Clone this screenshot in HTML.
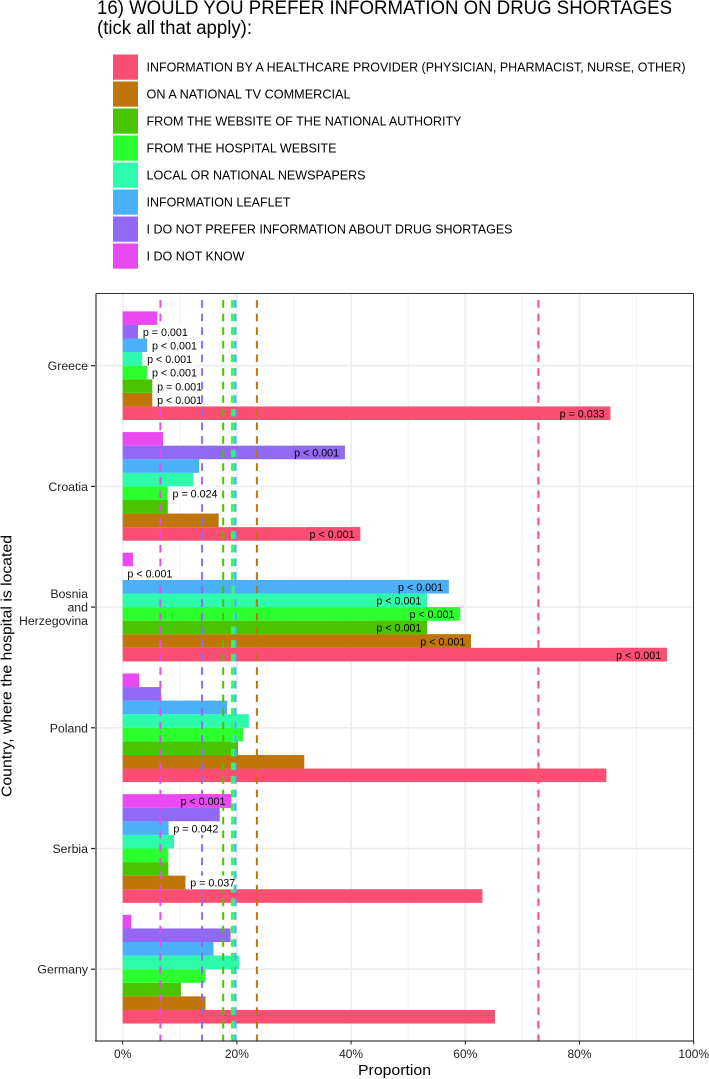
<!DOCTYPE html>
<html lang="en">
<head>
<meta charset="utf-8">
<title>Drug shortage information preferences</title>
<style>
html,body{margin:0;padding:0;background:#fff;}
svg{display:block;font-family:"Liberation Sans",Arial,sans-serif;}
</style>
</head>
<body>
<svg id="chart" xmlns="http://www.w3.org/2000/svg" width="709" height="1079" viewBox="0 0 709 1079">
  <rect x="0" y="0" width="709" height="1079" fill="#ffffff"/>
  <text x="97" y="14" font-size="19.8" fill="#000" textLength="575" lengthAdjust="spacingAndGlyphs">16) WOULD YOU PREFER INFORMATION ON DRUG SHORTAGES</text>
  <text x="97" y="34.2" font-size="19.8" fill="#000" textLength="155" lengthAdjust="spacingAndGlyphs">(tick all that apply):</text>
  <g id="legend"></g>
  <g id="grid"></g>
  <g id="bars"></g>
  <g id="refs"></g>
  <g id="labels"></g>
  <g id="axes"></g>
  <text x="394.5" y="1075" font-size="14.8" fill="#000" text-anchor="middle" textLength="73" lengthAdjust="spacingAndGlyphs">Proportion</text>
  <text transform="translate(11.5,666) rotate(-90)" font-size="14.8" fill="#000" text-anchor="middle" textLength="262" lengthAdjust="spacingAndGlyphs">Country, where the hospital is located</text>
</svg>
<script>
var countries = [["Greece"], ["Croatia"], ["Bosnia", "and", "Herzegovina"], ["Poland"], ["Serbia"], ["Germany"]];
var seriesNames = [
  "INFORMATION BY A HEALTHCARE PROVIDER (PHYSICIAN, PHARMACIST, NURSE, OTHER)",
  "ON A NATIONAL TV COMMERCIAL",
  "FROM THE WEBSITE OF THE NATIONAL AUTHORITY",
  "FROM THE HOSPITAL WEBSITE",
  "LOCAL OR NATIONAL NEWSPAPERS",
  "INFORMATION LEAFLET",
  "I DO NOT PREFER INFORMATION ABOUT DRUG SHORTAGES",
  "I DO NOT KNOW"
];
var seriesColors = ["#fa4f72", "#c07508", "#4bc400", "#2cff2e", "#2dfaab", "#4ab0fa", "#9069f5", "#ea48f0"];
var legendTextWidths = [539, 204, 315, 190, 219, 144, 366, 98];

// Percent values per series, in country order
var provider = [85.4, 41.6, 95.3, 84.7, 63.0, 65.2];
var tvCommercial = [5.2, 16.8, 61.0, 31.8, 11.0, 14.5];
var authorityWebsite = [5.2, 7.9, 53.3, 20.2, 8.0, 10.2];
var hospitalWebsite = [4.3, 7.9, 59.1, 21.1, 8.0, 14.5];
var newspapers = [3.45, 12.4, 53.3, 22.1, 9.0, 20.4];
var leaflet = [4.3, 13.4, 57.1, 18.3, 8.05, 15.9];
var noPreference = [2.7, 38.9, 0, 6.7, 17.0, 18.9];
var doNotKnow = [6.06, 7.06, 1.8, 2.9, 19.0, 1.5];
var seriesValues = [provider, tvCommercial, authorityWebsite, hospitalWebsite, newspapers, leaflet, noPreference, doNotKnow];

// Overall mean per series (dashed reference lines)
var referenceValues = [72.8, 23.5, 17.6, 19.15, 19.5, 19.75, 13.9, 6.6];

// p-value labels per series, in country order ("" means no label)
var pProvider = ["p = 0.033", "p < 0.001", "p < 0.001", "", "", ""];
var pTvCommercial = ["p < 0.001", "", "p < 0.001", "", "p = 0.037", ""];
var pAuthorityWebsite = ["p = 0.001", "", "p < 0.001", "", "", ""];
var pHospitalWebsite = ["p < 0.001", "p = 0.024", "p < 0.001", "", "", ""];
var pNewspapers = ["p < 0.001", "", "p < 0.001", "", "", ""];
var pLeaflet = ["p < 0.001", "", "p < 0.001", "", "p = 0.042", ""];
var pNoPreference = ["p = 0.001", "p < 0.001", "p < 0.001", "", "", ""];
var pDoNotKnow = ["", "", "", "", "p < 0.001", ""];
var seriesLabels = [pProvider, pTvCommercial, pAuthorityWebsite, pHospitalWebsite, pNewspapers, pLeaflet, pNoPreference, pDoNotKnow];

var majorTicks = [0, 20, 40, 60, 80, 100];
var minorTicks = [10, 30, 50, 70, 90];

var SVGNS = "http://www.w3.org/2000/svg";
var panel = {left: 96, right: 693.5, top: 293.5, bottom: 1041};
var band = {first: 365.7, step: 120.7, barStep: 13.58};

function xScale(v) { return 122.7 + v * 5.71; }
function yCountry(c) { return band.first + c * band.step; }
function yBar(c, s) { return yCountry(c) + (3.5 - s) * band.barStep; }

function make(parent, tag, attrs, text) {
  var el = document.createElementNS(SVGNS, tag);
  for (var k in attrs) { el.setAttribute(k, attrs[k]); }
  if (text !== undefined) { el.textContent = text; }
  parent.appendChild(el);
  return el;
}

var gLegend = document.getElementById("legend");
var gGrid = document.getElementById("grid");
var gBars = document.getElementById("bars");
var gRefs = document.getElementById("refs");
var gLabels = document.getElementById("labels");
var gAxes = document.getElementById("axes");

// Legend
seriesNames.forEach(function (name, i) {
  var sw = make(gLegend, "rect", {x: 113, y: 54.5 + i * 27, width: 25, height: 25.2, fill: seriesColors[i]});
  
  
  var lt = make(gLegend, "text", {x: 146.5, y: 71.6 + i * 27, "font-size": 13, fill: "#000", textLength: legendTextWidths[i], lengthAdjust: "spacingAndGlyphs"}, name);
  
  
});

// Grid
minorTicks.forEach(function (t) {
  var l = make(gGrid, "line", {x1: xScale(t), x2: xScale(t), y1: panel.top, y2: panel.bottom, stroke: "#eef2f2", "stroke-width": 1});
  
  
});
majorTicks.forEach(function (t) {
  var l = make(gGrid, "line", {x1: xScale(t), x2: xScale(t), y1: panel.top, y2: panel.bottom, stroke: "#e8eeee", "stroke-width": 1.6});
  
  
});
countries.forEach(function (c, i) {
  var l = make(gGrid, "line", {x1: panel.left, x2: panel.right, y1: yCountry(i), y2: yCountry(i), stroke: "#e8eeee", "stroke-width": 1.6});
  
  
});

// Bars
seriesValues.forEach(function (values, s) {
  values.forEach(function (v, c) {
    var b = make(gBars, "rect", {x: xScale(0), y: yBar(c, s) - band.barStep / 2, width: Math.max(0, xScale(v) - xScale(0)), height: band.barStep, fill: seriesColors[s]});
    
    
  });
});

// Dashed reference lines
referenceValues.forEach(function (v, s) {
  var r = make(gRefs, "line", {x1: xScale(v), x2: xScale(v), y1: panel.bottom, y2: panel.top, stroke: seriesColors[s], "stroke-width": 2, "stroke-dasharray": "7.6 6", "stroke-dashoffset": 1.1});
  
  
});

// p-value labels
seriesLabels.forEach(function (labels, s) {
  labels.forEach(function (txt, c) {
    if (!txt) { return; }
    var v = seriesValues[s][c];
    var end = xScale(v);
    var yc = yBar(c, s);
    var inside = v >= 15;
    var bg;
    if (inside) {
      bg = make(gLabels, "rect", {x: end - 52, y: yc - band.barStep / 2, width: 52, height: band.barStep, fill: seriesColors[s]});
    } else {
      bg = make(gLabels, "rect", {x: end, y: yc - band.barStep / 2, width: 48, height: band.barStep, fill: "#ffffff"});
    }
    
    
    var t = make(gLabels, "text", {x: inside ? end - 50.7 : end + 4.7, y: yc + 4.2, "font-size": 11.4, fill: "#000", textLength: 45, lengthAdjust: "spacingAndGlyphs"}, txt);
    
    
  });
});

// Panel border
var bTop = make(gAxes, "line", {x1: panel.left, x2: panel.right, y1: panel.top, y2: panel.top, stroke: "#333", "stroke-width": 1});


var bRight = make(gAxes, "line", {x1: panel.right, x2: panel.right, y1: panel.top, y2: panel.bottom, stroke: "#333", "stroke-width": 1});


var bLeft = make(gAxes, "line", {x1: panel.left, x2: panel.left, y1: panel.top, y2: panel.bottom, stroke: "#777", "stroke-width": 1.8});


var bBottom = make(gAxes, "line", {x1: panel.left - 0.9, x2: panel.right + 0.5, y1: panel.bottom, y2: panel.bottom, stroke: "#111", "stroke-width": 1});



// X ticks
majorTicks.forEach(function (t) {
  var m = make(gAxes, "line", {x1: xScale(t), x2: xScale(t), y1: panel.bottom, y2: panel.bottom + 3.5, stroke: "#222", "stroke-width": 1});
  
  
  var l = make(gAxes, "text", {x: xScale(t), y: 1058, "font-size": 12, fill: "#222", "text-anchor": "middle"}, t + "%");
  
  
});

// Y ticks
countries.forEach(function (lines, i) {
  var y = yCountry(i);
  var m = make(gAxes, "line", {x1: panel.left - 5, x2: panel.left - 1, y1: y, y2: y, stroke: "#222", "stroke-width": 1.2});
  
  
  lines.forEach(function (line, j) {
    var off = (j - (lines.length - 1) / 2) * 13.5;
    var l = make(gAxes, "text", {x: 88, y: y + off + 4.5, "font-size": 12.3, fill: "#222", "text-anchor": "end"}, line);
    
    
  });
});
</script>
</body>
</html>
